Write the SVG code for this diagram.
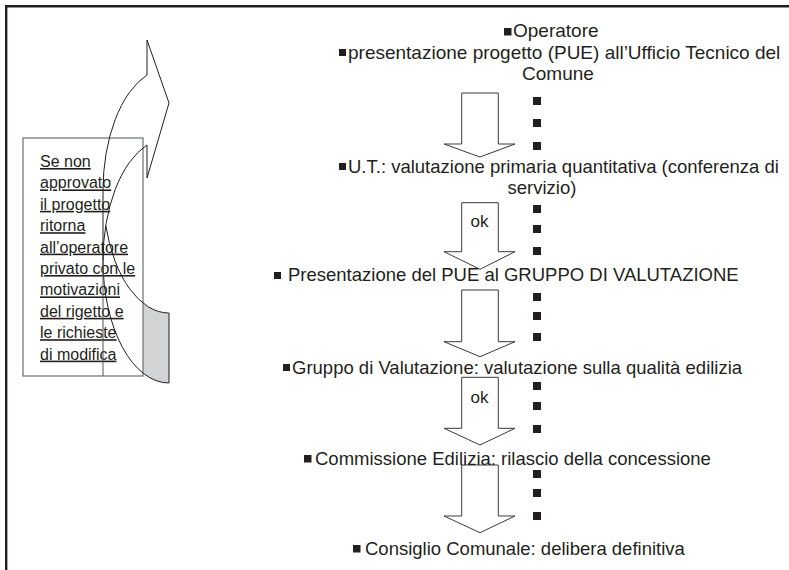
<svg xmlns="http://www.w3.org/2000/svg" width="789" height="570" viewBox="0 0 789 570">
<style>
.t{font-family:"Liberation Sans",Arial,sans-serif;font-size:18.5px;fill:#231f20}
.t19{font-size:19px}
.bx{font-family:"Liberation Sans",Arial,sans-serif;font-size:16px;fill:#231f20;text-decoration:underline}
.ok{font-family:"Liberation Sans",Arial,sans-serif;font-size:17px;fill:#231f20}
.blk{fill:#ffffff;stroke:#3a3a3a;stroke-width:1}
.sq{fill:#231f20}
</style>
<rect width="789" height="570" fill="#ffffff"/>
<path d="M6.2,570 V6.2 H789" fill="none" stroke="#231f20" stroke-width="2.4"/>

<g id="return-arrow-shade">
<path d="M169,313 A66 122.5 0 0 1 105.75,225.5 A66 122.5 0 0 1 103,260.5 A66 122.5 0 0 0 169,383 Z" fill="#d1d3d4"/>
</g>

<g id="note-box">
<rect x="23" y="138" width="120" height="238" fill="#ffffff" stroke="#6d6e71" stroke-width="1.2"/>
<text class="bx" x="40" y="167">Se non</text>
<text class="bx" x="40" y="188.4">approvato</text>
<text class="bx" x="40" y="209.8">il progetto</text>
<text class="bx" x="40" y="231.2">ritorna</text>
<text class="bx" x="40" y="252.6">all’operatore</text>
<text class="bx" x="40" y="274">privato con le</text>
<text class="bx" x="40" y="295.4">motivazioni</text>
<text class="bx" x="40" y="316.8">del rigetto e</text>
<text class="bx" x="40" y="338.2">le richieste</text>
<text class="bx" x="40" y="359.6">di modifica</text>
</g>

<g id="return-arrow">
<path d="M103,260.5 A66 122.5 0 0 1 147,145 L147,178 L169,103 L147,40 L147,75 A66 122.5 0 0 0 103,190.5 L103,260.5 A66 122.5 0 0 0 169,383 L169,313 A66 122.5 0 0 1 105.75,225.5" fill="none" stroke="#231f20" stroke-width="1"/>
<path d="M103,260.5 V376" fill="none" stroke="#555555" stroke-width="1"/>
</g>

<g id="connectors">
<path class="blk" d="M461.7,93 H498.3 V144 H515 L480,157 L444,144 H461.7 Z"/>
<path class="blk" d="M461.7,202.7 H498.3 V251.7 H515 L480,269.3 L444,251.7 H461.7 Z"/>
<path class="blk" d="M461.7,290 H498.3 V341.7 H515 L480,356.7 L444,341.7 H461.7 Z"/>
<path class="blk" d="M461.7,377.3 H498.3 V428.3 H515 L480,445 L444,428.3 H461.7 Z"/>
<path class="blk" d="M461.7,465 H498.3 V516 H515 L480,532.7 L444,516 H461.7 Z"/>
<text class="ok" x="479.5" y="226.7" text-anchor="middle">ok</text>
<text class="ok" x="479.5" y="403" text-anchor="middle">ok</text>
</g>

<g id="dots">
<rect class="sq" x="533" y="97" width="8" height="8"/>
<rect class="sq" x="533" y="119" width="8" height="8"/>
<rect class="sq" x="533" y="142" width="8" height="8"/>
<rect class="sq" x="533" y="205" width="8" height="8"/>
<rect class="sq" x="533" y="225" width="8" height="8"/>
<rect class="sq" x="533" y="247" width="8" height="8"/>
<rect class="sq" x="533" y="293" width="8" height="8"/>
<rect class="sq" x="533" y="312" width="8" height="8"/>
<rect class="sq" x="533" y="333" width="8" height="8"/>
<rect class="sq" x="533" y="382" width="8" height="8"/>
<rect class="sq" x="533" y="402" width="8" height="8"/>
<rect class="sq" x="533" y="425" width="8" height="8"/>
<rect class="sq" x="533" y="470" width="8" height="8"/>
<rect class="sq" x="533" y="489" width="8" height="8"/>
<rect class="sq" x="533" y="512" width="8" height="8"/>
</g>

<g id="step-operatore">
<rect class="sq" x="504" y="28" width="7.5" height="7.5"/>
<text class="t t19" x="513" y="37">Operatore</text>
</g>
<g id="step-presentazione">
<rect class="sq" x="339" y="49" width="7" height="7"/>
<text class="t t19" x="348" y="59">presentazione progetto (PUE) all’Ufficio Tecnico del</text>
<text class="t t19" x="558" y="80" text-anchor="middle">Comune</text>
</g>
<g id="step-ut">
<rect class="sq" x="339" y="163" width="7" height="7"/>
<text class="t" x="348" y="173">U.T.: valutazione primaria quantitativa (conferenza di</text>
<text class="t" x="542" y="194" text-anchor="middle">servizio)</text>
</g>
<g id="step-gruppo-presentazione">
<rect class="sq" x="274" y="272" width="7" height="7"/>
<text class="t" x="288" y="281">Presentazione del PUE al GRUPPO DI VALUTAZIONE</text>
</g>
<g id="step-gruppo-valutazione">
<rect class="sq" x="283" y="364" width="7" height="7"/>
<text class="t" x="292" y="374">Gruppo di Valutazione: valutazione sulla qualità edilizia</text>
</g>
<g id="step-commissione">
<rect class="sq" x="304" y="455" width="7.5" height="7.5"/>
<text class="t" x="315" y="464.5">Commissione Edilizia: rilascio della concessione</text>
</g>
<g id="step-consiglio">
<rect class="sq" x="353" y="545" width="7.5" height="7.5"/>
<text class="t" x="365" y="554.5">Consiglio Comunale: delibera definitiva</text>
</g>
</svg>
